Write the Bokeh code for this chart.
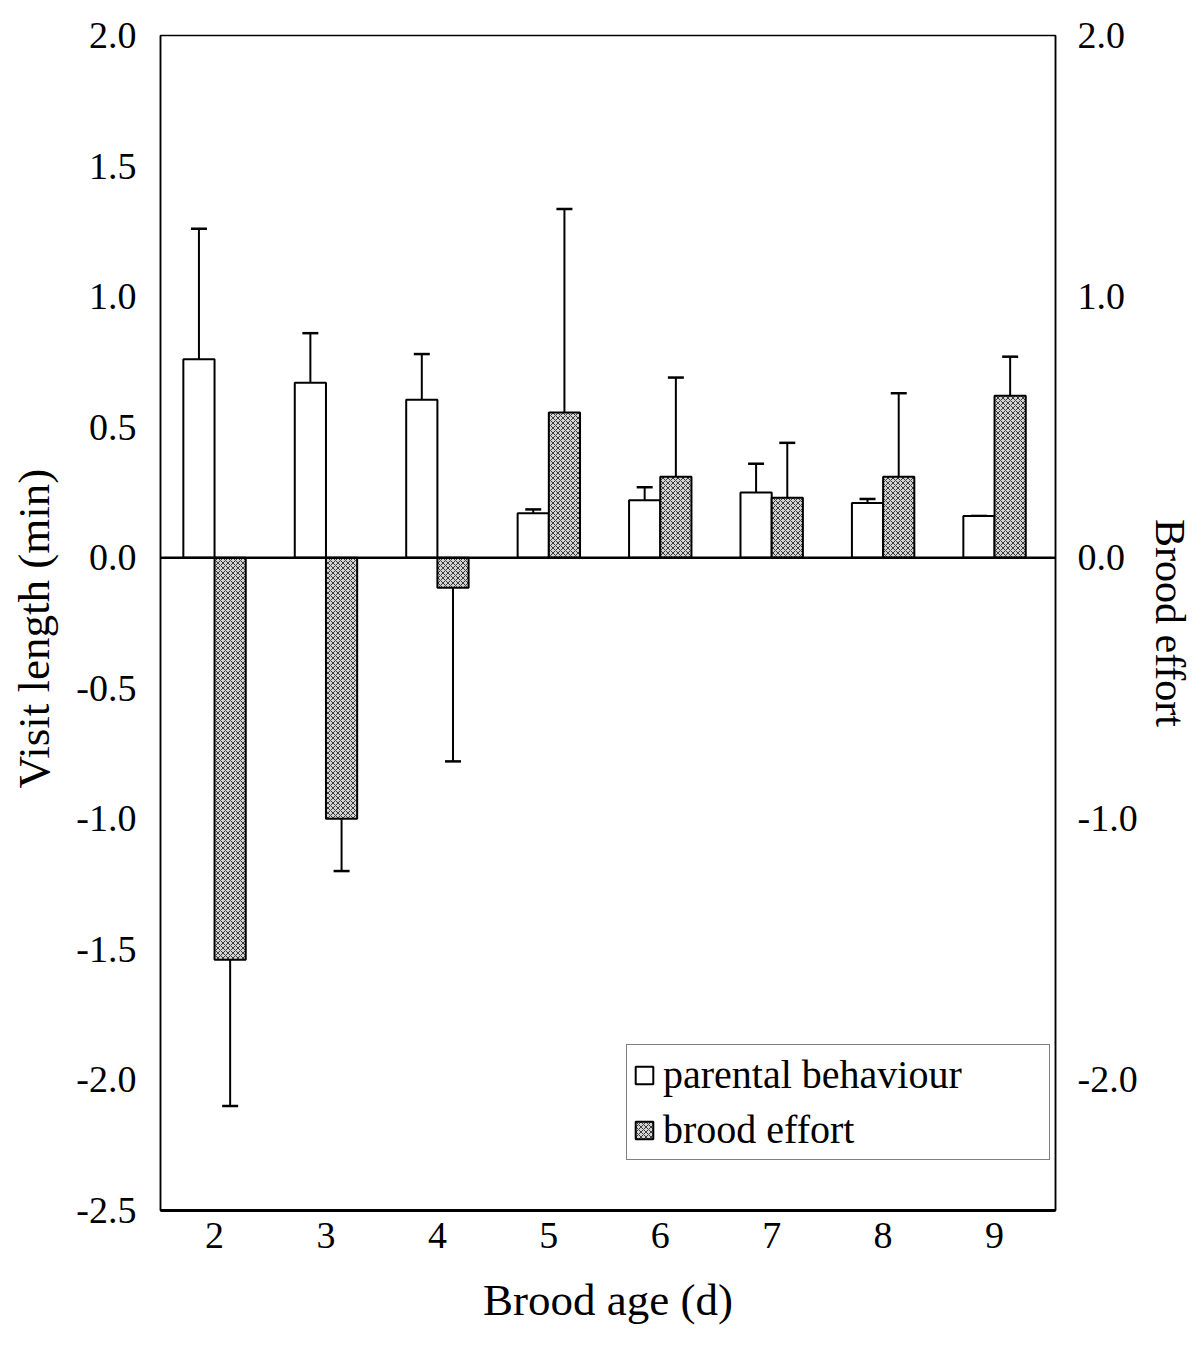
from bokeh.plotting import figure
from bokeh.models import (ColumnDataSource, Range1d, LinearAxis, FixedTicker,
                          Whisker, TeeHead, Span, Legend, LegendItem,
                          CustomJSTickFormatter)
from bokeh.transform import dodge
from bokeh.embed import file_html
from bokeh.resources import INLINE

# ---- data ----
ages = [2, 3, 4, 5, 6, 7, 8, 9]
parental = [0.76, 0.67, 0.605, 0.17, 0.22, 0.25, 0.21, 0.16]
parental_se = [0.50, 0.19, 0.175, 0.015, 0.05, 0.11, 0.015, 0.0]
brood = [-1.54, -1.00, -0.115, 0.556, 0.31, 0.23, 0.31, 0.62]
brood_se = [0.56, 0.20, 0.665, 0.78, 0.38, 0.21, 0.32, 0.15]
left_ticks = [2.0, 1.5, 1.0, 0.5, 0.0, -0.5, -1.0, -1.5, -2.0, -2.5]
right_ticks = [2.0, 1.0, 0.0, -1.0, -2.0]

FONT = "Liberation Serif"

src = ColumnDataSource(dict(
    age=ages,
    parental=parental,
    parental_tip=[v + e for v, e in zip(parental, parental_se)],
    brood=brood,
    brood_tip=[v + (e if v >= 0 else -e) for v, e in zip(brood, brood_se)],
))

W, H = 1196, 1346
p = figure(width=W, height=H, output_backend="svg", toolbar_location=None,
           x_range=Range1d(1.515, 9.547), y_range=Range1d(-2.5, 2.0),
           min_border_left=160, min_border_right=141,
           min_border_top=35, min_border_bottom=136)
p.extra_y_ranges = {"right": Range1d(-2.5, 2.0)}

p.xgrid.visible = False
p.ygrid.visible = False
p.outline_line_color = "black"
p.outline_line_width = 1.5
p.background_fill_color = "white"
p.border_fill_color = "white"

# axes
p.xaxis.ticker = FixedTicker(ticks=ages)
p.xaxis.axis_label = "Brood age (d)"
p.yaxis.ticker = FixedTicker(ticks=left_ticks)
p.yaxis.axis_label = "Visit length  (min)"
p.yaxis.formatter = CustomJSTickFormatter(code="return tick.toFixed(1);")

ra = LinearAxis(y_range_name="right", ticker=FixedTicker(ticks=right_ticks),
                formatter=CustomJSTickFormatter(code="return tick.toFixed(1);"),
                axis_label="Brood effort")
p.add_layout(ra, "right")

for ax in [p.xaxis[0], p.yaxis[0], ra]:
    ax.major_tick_out = 0
    ax.major_tick_in = 0
    ax.minor_tick_out = 0
    ax.minor_tick_in = 0
    ax.axis_line_color = "black"
    ax.major_label_text_font = FONT
    ax.major_label_text_font_size = "38px"
    ax.major_label_text_color = "black"
    ax.axis_label_text_font = FONT
    ax.axis_label_text_font_style = "normal"
    ax.axis_label_text_color = "black"

p.xaxis.axis_line_width = 3
p.xaxis.major_label_standoff = 12
p.xaxis.axis_label_standoff = 24
p.xaxis.axis_label_text_font_size = "45px"

p.yaxis.axis_line_width = 1.5
p.yaxis.major_label_standoff = 24
p.yaxis.axis_label_standoff = 14
p.yaxis.axis_label_text_font_size = "45px"

ra.axis_line_width = 1.5
ra.major_label_standoff = 22
ra.axis_label_standoff = 6
ra.axis_label_text_font_size = "42px"

# zero line
p.add_layout(Span(location=0, dimension="width", line_color="black", line_width=2.5))

BW = 0.28
r_par = p.vbar(x=dodge("age", -BW / 2, range=p.x_range), top="parental", bottom=0,
               width=BW, source=src, fill_color="white", line_color="black", line_width=2)
r_br = p.vbar(x=dodge("age", BW / 2, range=p.x_range), top="brood", bottom=0,
              width=BW, source=src, y_range_name="right",
              fill_color="#d2d2d2", hatch_pattern="diagonal_cross", hatch_scale=5,
              hatch_weight=1.0, hatch_color="#3a3a3a",
              line_color="black", line_width=2)

p.add_layout(Whisker(base=dodge("age", -BW / 2, range=p.x_range), lower="parental",
                     upper="parental_tip", source=src, line_color="black", line_width=2,
                     lower_head=None, upper_head=TeeHead(size=16, line_width=2.5)))
p.add_layout(Whisker(base=dodge("age", BW / 2, range=p.x_range), lower="brood",
                     upper="brood_tip", source=src, y_range_name="right",
                     line_color="black", line_width=2,
                     lower_head=None, upper_head=TeeHead(size=16, line_width=2.5)))

legend = Legend(items=[LegendItem(label="parental behaviour", renderers=[r_par]),
                       LegendItem(label="brood effort", renderers=[r_br])],
                location=(466, 50))
legend.label_text_font = FONT
legend.label_text_font_size = "40px"
legend.label_text_color = "black"
legend.glyph_width = 22
legend.glyph_height = 22
legend.label_standoff = 8
legend.padding = 6
legend.spacing = 8
legend.border_line_color = "black"
legend.border_line_width = 1.5
legend.background_fill_alpha = 1
legend.label_width = 380
p.add_layout(legend, "center")

open("out.html", "w").write(file_html(p, INLINE))
